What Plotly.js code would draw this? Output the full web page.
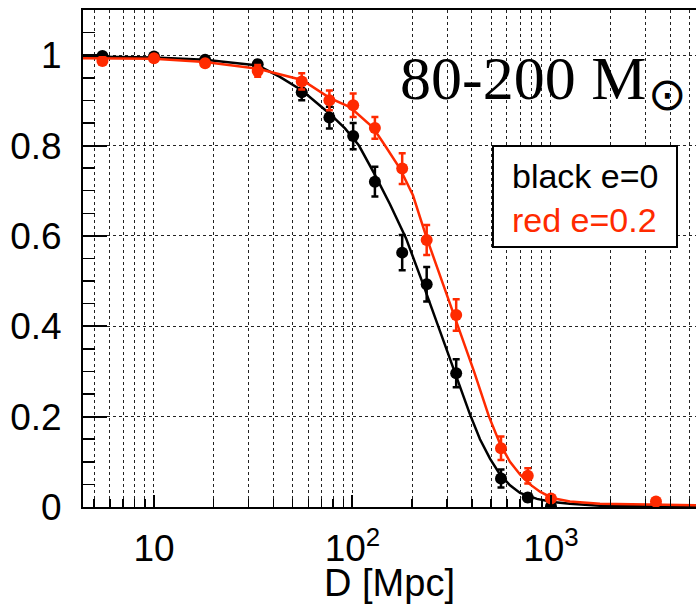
<!DOCTYPE html>
<html>
<head>
<meta charset="utf-8">
<script src="https://cdn.plot.ly/plotly-3.0.1.min.js"></script>
<style>html,body{margin:0;padding:0;background:#fff;}#chart{width:696px;height:604px;}</style>
</head>
<body>
<div id="chart"></div>
<script>
// Measured points (distance in Mpc)
const distance = [5.5, 10, 18.1, 33.3, 55.5, 76.5, 100.8, 129.7, 178, 236.5, 333, 560, 764, 1000, 3380];
const blackEff = [0.998, 0.997, 0.990, 0.980, 0.918, 0.862, 0.821, 0.720, 0.563, 0.493, 0.296, 0.063, 0.021, 0.001, 0.002];
const blackErr = [0.004, 0.004, 0.006, 0.008, 0.018, 0.024, 0.029, 0.033, 0.039, 0.038, 0.031, 0.020, 0.008, 0.003, 0.002];
const redEff   = [0.987, 0.993, 0.982, 0.965, 0.942, 0.900, 0.889, 0.839, 0.749, 0.591, 0.425, 0.130, 0.069, 0.019, 0.012];
const redErr   = [0.005, 0.004, 0.006, 0.013, 0.018, 0.022, 0.026, 0.024, 0.034, 0.033, 0.035, 0.026, 0.017, 0.006, 0.004];

// Fit curves
const blackFitD = [4.39, 10, 18.07, 33.4, 43.1, 55.7, 77.0, 91.7, 107.8, 129.8, 154.5, 186.0, 223.9, 269.6, 324.6, 390.8, 438.9, 492.9, 553.5, 621.6, 698.2, 850.3, 1020, 1246, 1765, 5377];
const blackFitY = [0.997, 0.995, 0.990, 0.977, 0.952, 0.922, 0.870, 0.838, 0.800, 0.735, 0.670, 0.595, 0.500, 0.400, 0.300, 0.205, 0.150, 0.107, 0.072, 0.048, 0.031, 0.018, 0.011, 0.007, 0.003, 0.000];
const redFitD = [4.39, 10, 18.07, 33.4, 55.7, 77.0, 97.1, 126.9, 145.8, 173.5, 201.7, 234.6, 282.4, 340.0, 409.4, 487.2, 553.5, 621.6, 698.2, 784.1, 880.5, 1011.6, 1246, 1765, 3153, 5377];
const redFitY = [0.993, 0.992, 0.985, 0.970, 0.945, 0.905, 0.885, 0.840, 0.800, 0.749, 0.690, 0.600, 0.500, 0.400, 0.300, 0.200, 0.140, 0.100, 0.072, 0.050, 0.034, 0.020, 0.012, 0.007, 0.005, 0.004];

const majorX = [10, 100, 1000];
const majorXText = ['10', '10<sup>2</sup>', '10<sup>3</sup>'];
const minorX = [5,6,7,8,9,20,30,40,50,60,70,80,90,200,300,400,500,600,700,800,900,2000,3000,4000,5000];

const RED = '#ff2a00';
const SANS = 'Liberation Sans, Arial, Helvetica, sans-serif';
const SERIF = 'Liberation Serif, Times New Roman, serif';

const traces = [
  {x: blackFitD, y: blackFitY, mode: 'lines', line: {color: '#000', width: 2.5}, hoverinfo: 'skip'},
  {x: distance, y: blackEff, mode: 'markers', marker: {color: '#000', size: 12},
   error_y: {type: 'data', array: blackErr, visible: true, color: '#000', thickness: 2.5, width: 3.5}},
  {x: redFitD, y: redFitY, mode: 'lines', line: {color: RED, width: 2.5}, hoverinfo: 'skip'},
  {x: distance, y: redEff, mode: 'markers', marker: {color: RED, size: 12},
   error_y: {type: 'data', array: redErr, visible: true, color: RED, thickness: 2.5, width: 3.5}}
];

const layout = {
  width: 696, height: 604,
  margin: {l: 83, r: 0, t: 10, b: 97},
  paper_bgcolor: '#fff', plot_bgcolor: '#fff',
  showlegend: false,
  font: {family: SANS, color: '#000', size: 37},
  xaxis: {
    type: 'log', range: [Math.log10(4.39), Math.log10(5377)],
    tickmode: 'array', tickvals: majorX, ticktext: majorXText,
    ticks: 'inside', ticklen: 12, tickwidth: 2, tickcolor: '#000',
    showline: true, linecolor: '#000', linewidth: 2, mirror: true,
    showgrid: true, griddash: 'dot', gridcolor: '#222', gridwidth: 1,
    minor: {tickmode: 'array', tickvals: minorX, ticks: 'inside', ticklen: 8, tickwidth: 1.5, tickcolor: '#000',
            showgrid: true, griddash: 'dot', gridcolor: '#222', gridwidth: 1},
    tickfont: {family: SANS, size: 37, color: '#000'},
    ticklabelstandoff: 8,
    title: {text: 'D [Mpc]', font: {family: SANS, size: 38, color: '#000'}, standoff: 6},
    zeroline: false
  },
  yaxis: {
    range: [0, 1.1], tickmode: 'linear', tick0: 0, dtick: 0.2,
    ticks: 'inside', ticklen: 24, tickwidth: 2, tickcolor: '#000',
    showline: true, linecolor: '#000', linewidth: 2, mirror: false,
    showgrid: true, griddash: 'dot', gridcolor: '#222', gridwidth: 1,
    minor: {tickmode: 'linear', dtick: 0.05, ticks: 'inside', ticklen: 12, tickwidth: 1.5, tickcolor: '#000', showgrid: false},
    tickfont: {family: SANS, size: 37, color: '#000'},
    ticklabelstandoff: 12,
    zeroline: false
  },
  shapes: [
    {type: 'rect', xref: 'paper', yref: 'paper', x0: 0.481, x1: 1.0, y0: 0.7646, y1: 0.9537,
     fillcolor: '#fff', line: {width: 0}, layer: 'below'},
    {type: 'rect', xref: 'paper', yref: 'paper', x0: 0.6688, x1: 0.969, y0: 0.5231, y1: 0.7264,
     fillcolor: '#fff', line: {color: '#000', width: 2}, layer: 'above'}
  ],
  annotations: [
    {xref: 'paper', yref: 'paper', x: (648 - 83) / 613, y: 0.864, xanchor: 'right', yanchor: 'middle', showarrow: false,
     text: '80-200 M', font: {family: SERIF, size: 62, color: '#000'}},
    {xref: 'paper', yref: 'paper', x: (667 - 83) / 613, y: (507 - 94) / 497, xanchor: 'center', yanchor: 'middle', showarrow: false,
     text: '⊙', font: {family: 'DejaVu Sans, sans-serif', size: 46, color: '#000'}},
    {xref: 'paper', yref: 'paper', x: 0.6966, y: 0.666, xanchor: 'left', yanchor: 'middle', showarrow: false,
     text: 'black e=0', font: {family: SANS, size: 34, color: '#000'}},
    {xref: 'paper', yref: 'paper', x: 0.6966, y: 0.5775, xanchor: 'left', yanchor: 'middle', showarrow: false,
     text: 'red e=0.2', font: {family: SANS, size: 34, color: RED}}
  ]
};

Plotly.newPlot('chart', traces, layout, {displayModeBar: false, staticPlot: true});
</script>
</body>
</html>
